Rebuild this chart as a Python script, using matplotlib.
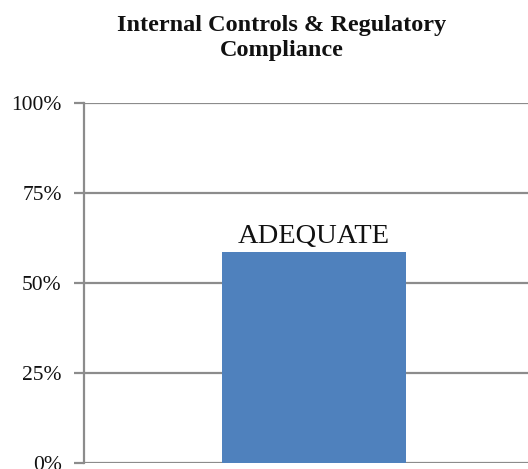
import matplotlib.pyplot as plt
from matplotlib.ticker import FuncFormatter

# datos
categorias = ['ADEQUATE']
valores = [58.5]
ticks_y = [0, 25, 50, 75, 100]

fig = plt.figure(figsize=(5.28, 4.69), dpi=100)
plt.rcParams['font.family'] = ['Liberation Serif', 'DejaVu Serif']

# el área de trazado se sale por la derecha, como en el original
ax = fig.add_axes([84 / 528, 5.7 / 469, 460 / 528, 360.6 / 469])

gris = '#8c8c8c'
x = range(len(categorias))
ax.bar(x, valores, width=0.402, color='#4f81bd', zorder=3)

for xi, v, cat in zip(x, valores, categorias):
    ax.text(xi, v + 1.0, cat, ha='center', va='bottom', fontsize=20.5, color='#111111')

ax.set_xlim(-0.5, 0.5)
ax.set_ylim(0, 100)
ax.set_yticks(ticks_y)
ax.yaxis.set_major_formatter(FuncFormatter(lambda v, _: f'{v:.0f}%'))
ax.set_xticks([])

ax.grid(axis='y', color=gris, linewidth=1.6, zorder=0)
for lado in ['top', 'right', 'bottom']:
    ax.spines[lado].set_visible(False)
ax.spines['left'].set_color(gris)
ax.spines['left'].set_linewidth(1.6)
ax.tick_params(axis='y', length=7, width=1.6, color=gris, pad=9,
               labelsize=15.5, labelcolor='#111111')

fig.text(282 / 528, 1 - 15 / 469, 'Internal Controls & Regulatory\nCompliance',
         ha='center', va='top', fontsize=17.5, fontweight='bold',
         linespacing=1.25, color='#111111')

fig.savefig('out.png', dpi=100)
